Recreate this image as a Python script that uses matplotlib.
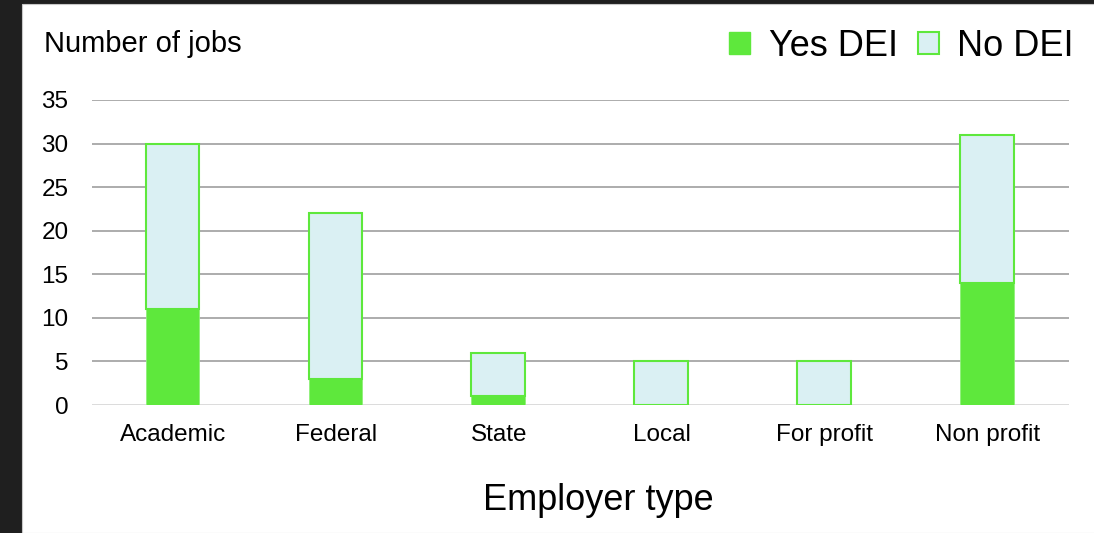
import numpy as np
import matplotlib
matplotlib.use("Agg")
import matplotlib.pyplot as plt
from matplotlib.patches import Patch, Rectangle

plt.rcParams["font.family"] = ["Liberation Sans", "DejaVu Sans"]

# Data
categories = ["Academic", "Federal", "State", "Local", "For profit", "Non profit"]
yes_dei = [11, 3, 1, 0, 0, 14]
no_dei = [19, 19, 5, 5, 5, 17]
y_ticks = [0, 5, 10, 15, 20, 25, 30, 35]

GREEN = "#5ee83c"
LIGHT = "#daf0f3"
W, H = 1094, 533

fig = plt.figure(figsize=(W / 100, H / 100), dpi=100)
fig.patch.set_facecolor("#1f1f1f")
# white card over the dark frame
fig.patches.append(Rectangle((22 / W, 0), 1, 1 - 4 / H, transform=fig.transFigure,
                             facecolor="white", edgecolor="#c8c8c8", linewidth=0.8, zorder=-5))

ax = fig.add_axes([92 / W, 128 / H, (1069 - 92) / W, (405 - 100) / H])
ax.set_facecolor("none")

x = np.arange(len(categories))
ax.bar(x - 0.005, yes_dei, width=0.33, color=GREEN, edgecolor="#8ff07a", linewidth=0.6, zorder=3)
ax.bar(x - 0.005, no_dei, width=0.33, bottom=yes_dei, color=LIGHT, edgecolor=GREEN,
       linewidth=1.5, zorder=3)

ax.set_xlim(-0.5, len(categories) - 0.5)
ax.set_ylim(0, 35)
ax.set_yticks(y_ticks)
ax.set_xticks(x)
ax.set_xticklabels(categories)
ax.tick_params(axis="both", length=0, labelsize=17.5)
ax.tick_params(axis="x", pad=14)
ax.tick_params(axis="y", pad=17)

for t in y_ticks[1:]:
    ax.axhline(t, color="#a6a6a6", linewidth=1.3, zorder=1)
ax.axhline(0, color="#d9d9d9", linewidth=1.3, zorder=2)
for s in ax.spines.values():
    s.set_visible(False)

fig.text(44 / W, 1 - 44 / H, "Number of jobs", fontsize=21, ha="left", va="center")
fig.text(598 / W, 1 - 500 / H, "Employer type", fontsize=26, ha="center", va="center")

handles = [Patch(facecolor=GREEN, edgecolor=GREEN, linewidth=1.0),
           Patch(facecolor=LIGHT, edgecolor=GREEN, linewidth=1.5)]
fig.legend(handles, ["Yes DEI", "No DEI"], loc="center right",
           bbox_to_anchor=(1074 / W, 1 - 46 / H), ncol=2, frameon=False,
           fontsize=26, handlelength=0.58, handleheight=0.58,
           handletextpad=0.52, columnspacing=0.55, borderpad=0, borderaxespad=0)

fig.savefig("out.png", dpi=100, facecolor=fig.get_facecolor())
